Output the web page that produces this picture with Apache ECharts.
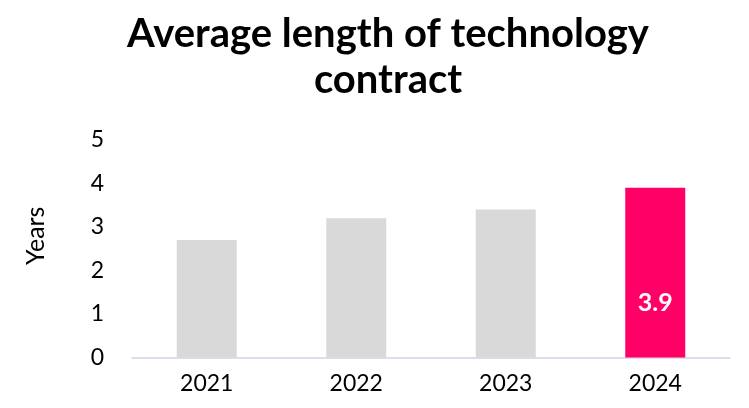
<!DOCTYPE html>
<html><head><meta charset="utf-8">
<script src="https://cdn.jsdelivr.net/npm/echarts@6/dist/echarts.min.js"></script>
<style>html,body{margin:0;padding:0;background:#fff}#c{width:749px;height:408px}</style>
</head><body><div id="c"></div>
<script>
const categories = ['2021','2022','2023','2024'];
const values = [2.7, 3.2, 3.4, 3.9];
const yTicks = [0,1,2,3,4,5];
const highlightIndex = 3;

const chart = echarts.init(document.getElementById('c'));
chart.setOption({
  animation:false,
  title:{text:'Average length of technology\ncontract', left:383, textAlign:'center', top:6,
    textStyle:{fontFamily:'Lato', fontWeight:'bold', fontSize:40, lineHeight:46, color:'#000'}},
  grid:{left:132, right:19, top:140, bottom:50.5},
  xAxis:{type:'category', data:categories,
    axisLine:{lineStyle:{color:'#D0D3E6', width:1.5}}, axisTick:{show:false},
    axisLabel:{fontFamily:'Lato', fontSize:23, color:'#000', margin:15}},
  yAxis:{type:'value', min:yTicks[0], max:yTicks[yTicks.length-1], interval:1,
    name:'Years', nameLocation:'middle', nameGap:84, nameRotate:90,
    nameTextStyle:{fontFamily:'Lato', fontSize:25, color:'#000', padding:[0,0,0,26]},
    axisLine:{show:false}, axisTick:{show:false}, splitLine:{show:false},
    axisLabel:{fontFamily:'Lato', fontSize:23, color:'#000', margin:28}},
  series:[{type:'bar', barWidth:60,
    data: values.map((v,i)=>({value:v,
      itemStyle:{color: i===highlightIndex ? '#FF0066' : '#D9D9D9'},
      label: i===highlightIndex ? {show:true, position:'insideBottom', distance:42, color:'#fff', fontFamily:'Lato', fontWeight:'bold', fontSize:25} : {show:false}
    }))
  }]
});
</script></body></html>
